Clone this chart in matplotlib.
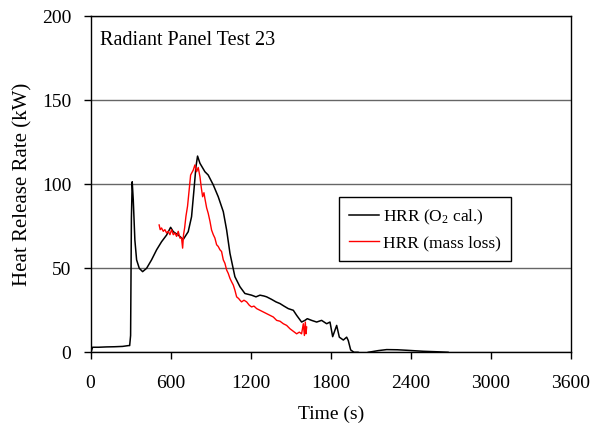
import numpy as np
import matplotlib
matplotlib.use("Agg")
import matplotlib.pyplot as plt

plt.rcParams['font.family'] = ['Liberation Serif', 'DejaVu Serif']
plt.rcParams['mathtext.fontset'] = 'custom'
plt.rcParams['mathtext.rm'] = 'Liberation Serif'
plt.rcParams['mathtext.it'] = 'Liberation Serif:italic'

# HRR from oxygen consumption calorimetry
t_o2 = [0, 7, 15, 60, 120, 180, 240, 285, 293, 300, 306, 312, 320, 332, 345, 365, 390,
        420, 457, 495, 532, 570, 600, 620, 657, 695, 732, 757, 775, 790, 802, 820, 857,
        882, 920, 957, 995, 1020, 1045, 1082, 1120, 1157, 1207, 1240, 1270, 1300, 1320,
        1357, 1390, 1420, 1450, 1482, 1520, 1545, 1582, 1607, 1625, 1657, 1695, 1732,
        1770, 1795, 1815, 1845, 1865, 1895, 1920, 1932, 1950, 1975, 2005, 2040, 2082,
        2157, 2220, 2300, 2370, 2495, 2600, 2680]
hrr_o2 = [0.5, 1, 3, 3, 3.2, 3.3, 3.5, 4, 4, 10, 80, 101.5, 90.6, 66.8, 55, 50, 48,
          50, 55, 61, 65.8, 69.8, 74.4, 71.8, 69.8, 67.2, 71.8, 80.7, 96.6, 110.5, 116.8,
          112.5, 107.5, 105.5, 99.6, 92.6, 83.7, 72.8, 58.9, 45, 39, 35, 34, 33, 34, 33.5,
          33, 31.5, 30, 29, 27.5, 26, 25, 22, 18, 19, 20, 19, 18, 19,
          17, 18, 9.3, 16, 9, 7.3, 9, 7, 1.4, 0, 0, np.nan, 0,
          1, 1.6, 1.5, 1.2, 0.6, 0.3, 0]

# HRR from mass loss
t_ml = [514, 522, 532, 545, 557, 570, 582, 595, 607, 620, 632, 645, 657, 670, 682, 690,
        697, 705, 715, 727, 737, 750, 760, 770, 782, 795, 807, 820, 830, 840, 850, 857,
        870, 882, 895, 907, 920, 932, 945, 957, 970, 982, 995, 1007, 1020, 1032, 1045,
        1057, 1070, 1082, 1095, 1110, 1120, 1132, 1150, 1170, 1190, 1207, 1225, 1245,
        1270, 1295, 1320, 1345, 1370, 1395, 1420, 1445, 1470, 1495, 1520, 1545, 1565,
        1582, 1595, 1603, 1610, 1615, 1620]
hrr_ml = [75.8, 73, 74, 72, 73, 71, 72, 70, 73, 70, 71, 69, 72, 68, 68, 62,
          70, 74, 81, 87, 95, 105.5, 107, 108.5, 111.5, 107.5, 110, 104.5, 98, 92.6, 95, 91.6,
          86, 82.7, 78, 72.8, 70, 68, 64, 63, 61, 60, 55, 53, 49, 47, 44,
          42, 40, 37, 33, 32, 31, 30, 31, 30, 28, 27, 27.5, 26,
          25, 24, 23, 22, 21, 19, 18.5, 17, 16, 14, 12.5, 11, 12,
          11, 17, 10, 18, 11, 15]

fig = plt.figure(figsize=(5.96, 4.36), dpi=100)
ax = fig.add_axes([0.152, 0.192, 0.8056, 0.7706])

ax.plot(t_o2, hrr_o2, color='black', lw=1.1, label='HRR (O$_2$ cal.)')
ax.plot(t_ml, hrr_ml, color='#ff0000', lw=1.0, label='HRR (mass loss)')

ax.set_xlim(0, 3600)
ax.set_ylim(0, 200)
ax.set_xticks(np.arange(0, 3601, 600))
ax.set_yticks(np.arange(0, 201, 50))
ax.yaxis.grid(True, color='#666666', lw=1)
ax.set_axisbelow(True)
for s in ax.spines.values():
    s.set_color('black')
    s.set_linewidth(1)
ax.tick_params(direction='out', length=5, width=1, labelsize=14)
ax.tick_params(axis='x', pad=11)
ax.tick_params(axis='y', pad=9)

ax.set_xlabel('Time (s)', fontsize=14, labelpad=10)
ax.set_ylabel('Heat Release Rate (kW)', fontsize=15, labelpad=7)
ax.text(0.019, 0.955, 'Radiant Panel Test 23', transform=ax.transAxes,
        fontsize=14.5, va='top', ha='left')

leg = ax.legend(loc='upper left', bbox_to_anchor=(0.517, 0.461), borderaxespad=0,
                fontsize=12.5, frameon=True, fancybox=False, edgecolor='black',
                framealpha=1, handlelength=1.7, borderpad=0.6, labelspacing=0.45,
                handletextpad=0.25)
leg.get_frame().set_linewidth(1)

fig.savefig('out.png', dpi=100)
